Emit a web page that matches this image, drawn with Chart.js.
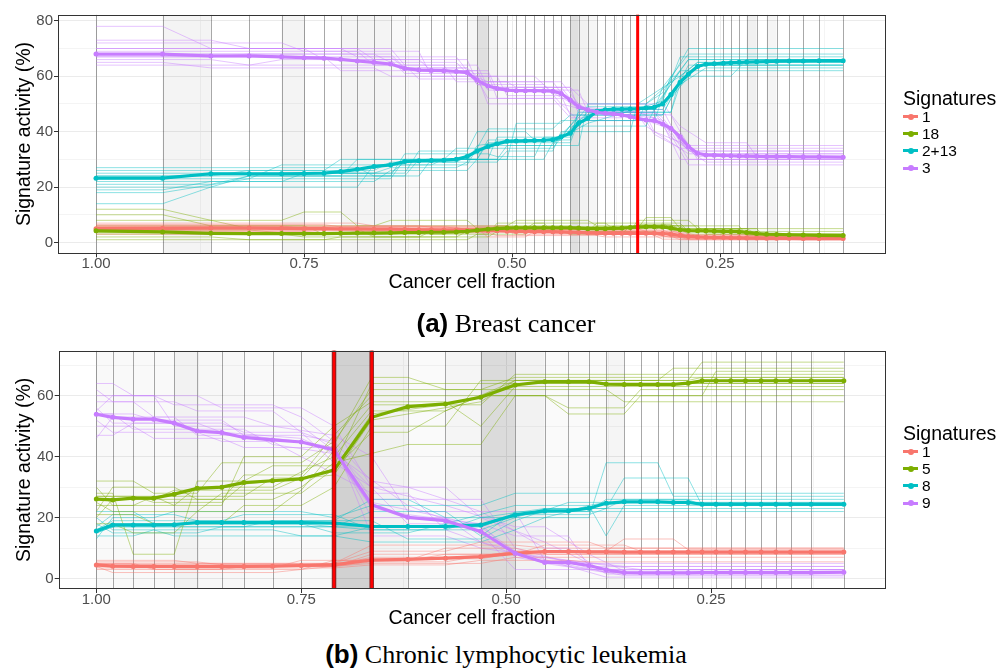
<!DOCTYPE html>
<html>
<head>
<meta charset="utf-8">
<script src="https://cdn.jsdelivr.net/npm/chart.js@4.4.1/dist/chart.umd.min.js"></script>
<style>
  body { margin: 0; background: #fff; width: 999px; height: 672px; position: relative; overflow: hidden;
         font-family: "Liberation Sans", Arial, sans-serif; }
  canvas { position: absolute; left: 0; }
  #cA { top: 0; }
  #cB { top: 336px; }
  .cap { position: absolute; left: 0; width: 1012px; text-align: center; line-height: 30px;
         font-family: "Liberation Serif", "Times New Roman", serif; font-size: 26px; color: #000; }
  .cap b { font-family: "Liberation Sans", Arial, sans-serif; }
  .leg { position: absolute; left: 903px; color: #000; }
  .leg .t { font-size: 19.5px; line-height: 20px; }
  .item { height: 17.2px; display: flex; align-items: center; font-size: 15.5px; }
  .sw { position: relative; width: 15px; height: 3px; margin-right: 4px; }
  .sw i { position: absolute; left: 4.5px; top: -1.5px; width: 6px; height: 6px; border-radius: 50%; }
</style>
</head>
<body>
<canvas id="cA" width="999" height="300"></canvas>
<canvas id="cB" width="999" height="300"></canvas>
<div class="cap" style="top:308px"><b>(a)</b> Breast cancer</div>
<div class="cap" style="top:639px"><b>(b)</b> Chronic lymphocytic leukemia</div>
<div class="leg" id="legA" style="top:88px"></div>
<div class="leg" id="legB" style="top:423px"></div>

<script>
// ---- axes ----
const xTicks = [1.00, 0.75, 0.50, 0.25];
const xGrid = [1.00, 0.875, 0.75, 0.625, 0.50, 0.375, 0.25, 0.125];
const yTicksA = [0, 20, 40, 60, 80];
const yGridA = [0, 10, 20, 30, 40, 50, 60, 70, 80];
const yTicksB = [0, 20, 40, 60];
const yGridB = [0, 10, 20, 30, 40, 50, 60, 70];

// ---- (a) breast cancer ----
const namesA = ['1', '18', '2+13', '3'];
const timesA = [1.000, 0.920, 0.862, 0.816, 0.777, 0.750, 0.726, 0.706, 0.686, 0.666,
  0.646, 0.629, 0.612, 0.597, 0.582, 0.567, 0.554, 0.542, 0.529, 0.518,
  0.506, 0.495, 0.484, 0.473, 0.462, 0.451, 0.441, 0.430, 0.420, 0.409,
  0.398, 0.388, 0.378, 0.368, 0.358, 0.349, 0.339, 0.329, 0.319, 0.309,
  0.298, 0.288, 0.277, 0.267, 0.257, 0.246, 0.237, 0.227, 0.218, 0.206,
  0.194, 0.182, 0.167, 0.150, 0.131, 0.102];
const sig1A = [5.0,5.1,5.2,5.2,5.1,5.0,5.0,4.9,4.9,4.8, 4.8,4.7,4.6,4.6,4.5,4.5,4.4,4.3,4.2,4.2,
  4.1,4.0,4.0,3.9,3.9,3.9,3.8,3.7,3.6,3.5, 3.4,3.3,3.3,3.3,3.3,3.3,3.3,3.3,3.2,3.0,
  2.6,2.2,2.0,1.9,1.8,1.8,1.7,1.7,1.6,1.6, 1.5,1.5,1.5,1.4,1.4,1.4];
const sig18A = [4.2,3.8,3.3,3.2,3.2,3.2,3.2,3.3,3.4,3.4, 3.5,3.6,3.6,3.7,3.7,3.8,4.0,4.4,4.8,5.0,
  5.2,5.3,5.3,5.3,5.3,5.3,5.3,5.3,5.2,5.0, 5.0,5.0,5.1,5.2,5.4,5.6,5.7,5.7,5.6,5.2,
  4.6,4.3,4.2,4.2,4.1,4.0,4.0,3.9,3.6,3.2, 3.0,2.9,2.8,2.7,2.6,2.5];
const sig213A = [23.2,23.2,24.8,24.8,24.8,24.9,25.0,25.6,26.4,27.4, 28.0,29.2,29.5,29.6,29.7,30.0,31.0,33.0,34.6,35.6,
  36.5,36.6,36.7,36.8,36.9,37.1,38.2,39.4,43.0,44.8, 47.4,47.9,48.1,48.1,48.2,48.3,48.5,48.8,50.0,53.4,
  57.8,60.8,63.5,64.3,64.5,64.7,64.9,65.0,65.1,65.2, 65.3,65.4,65.5,65.5,65.6,65.6];
const sig3A = [68.0,68.0,67.3,67.3,67.0,66.7,66.5,66.1,65.5,65.0, 64.4,62.8,62.2,62.1,62.0,61.7,61.3,58.6,56.5,55.6,
  55.0,54.8,54.8,54.8,54.7,54.6,53.8,51.4,49.0,47.8, 47.0,46.6,46.4,46.0,45.4,44.8,44.2,44.0,42.8,41.2,
  38.2,34.6,32.2,31.6,31.5,31.4,31.3,31.2,31.2,31.1, 31.0,31.0,31.0,30.9,30.9,30.8];
// gray shading between consecutive time points
const shadeA = [0,.045,0,0,.045,0,0,.045,.045,.045, .025,.025,0,0,0,0,.04,.12,.045,.025,
  0,0,0,0,0,0,0,.12,.05,.035, 0,0,0,0,0,0,0,0,0,.045, .09,.045,0,0,0,0,0,0,.06,0, .04,0,0,0,0];
const redA = [0.349];

// bootstrap runs: [time index, value]
const boot1A = [
  [[0,7],[8,7],[9,6],[20,6],[21,5],[35,5],[36,4],[40,4],[42,2.5],[55,2.5]],
  [[0,6],[12,6],[13,5.5],[25,5.5],[26,4.5],[38,4.5],[40,2],[55,2]],
  [[0,5.5],[15,5.5],[16,4.5],[28,4.5],[29,3],[39,3],[41,1.5],[55,1.5]],
  [[0,4.5],[10,4.5],[11,4],[22,4],[23,3.5],[38,3.5],[40,1],[55,1]],
  [[0,4],[5,4],[6,3.5],[18,3.5],[19,2.5],[30,2.5],[31,2],[40,2],[41,1],[55,1]],
  [[0,3],[7,3],[8,4],[20,4],[21,3],[37,3],[39,1.8],[55,1.8]],
  [[0,6],[4,6],[5,5],[17,5],[18,2],[22,2],[23,4],[36,4],[38,2.2],[55,2.2]],
  [[0,5],[20,5],[21,4],[36,4],[38,1.2],[55,1.2]],
  [[0,5.8],[14,5.8],[15,5],[30,5],[31,4.2],[39,4.2],[41,2.8],[55,2.8]],
  [[0,4.2],[9,4.2],[10,4.6],[24,4.6],[25,3.2],[38,3.2],[40,1.6],[55,1.6]],
  [[0,6.5],[6,6.5],[7,5.6],[19,5.6],[20,4.8],[33,4.8],[34,3.6],[40,3.6],[41,2],[55,2]]
];
const boot18A = [
  [[0,12],[1,12],[2,8],[4,8],[5,11],[7,11],[8,6],[20,6],[21,8],[29,8],[30,6],[40,6],[41,4],[55,4]],
  [[0,10],[1,10],[2,6],[9,6],[10,8],[16,8],[17,5],[35,5],[36,9],[39,9],[40,5],[48,5],[49,3],[55,3]],
  [[0,8],[2,8],[3,5],[12,5],[13,3],[18,3],[19,7],[24,7],[25,4],[34,4],[35,8],[41,8],[42,5],[55,5]],
  [[0,6],[5,6],[6,3],[14,3],[15,5],[22,5],[23,7],[31,7],[32,5],[40,5],[41,3],[55,3]],
  [[0,3],[4,3],[5,2],[12,2],[13,4],[18,4],[19,6],[27,6],[28,4],[37,4],[38,7],[40,7],[41,4],[49,4],[50,2],[55,2]],
  [[0,2],[2,2],[3,1],[16,1],[17,3],[22,3],[23,5],[36,5],[37,6],[47,6],[48,2.5],[55,2.5]],
  [[0,5],[8,5],[9,2],[15,2],[16,4],[26,4],[27,3],[33,3],[34,6],[42,6],[43,3],[55,3]],
  [[0,1],[6,1],[7,2],[18,2],[19,4],[29,4],[30,7],[38,7],[39,5],[49,5],[50,1.5],[55,1.5]],
  [[0,4.5],[3,4.5],[4,3.5],[16,3.5],[17,5.5],[34,5.5],[35,6.5],[39,6.5],[40,4.5],[47,4.5],[48,3],[55,3]],
  [[0,3.5],[10,3.5],[11,4.2],[18,4.2],[19,5.8],[38,5.8],[39,4.4],[48,4.4],[49,2.2],[55,2.2]]
];
const boot213A = [
  [[0,14],[1,14],[2,20],[8,20],[9,28],[16,28],[17,34],[25,34],[27,42],[36,42],[37,48],[40,62],[55,62]],
  [[0,18],[1,18],[3,23],[10,23],[11,30],[18,30],[19,38],[26,38],[28,46],[38,46],[39,52],[42,64],[55,64]],
  [[0,20],[2,20],[3,24],[7,24],[8,30],[17,30],[18,36],[27,36],[28,44],[35,44],[36,50],[39,58],[41,66],[55,66]],
  [[0,22],[4,22],[5,25],[11,25],[12,33],[16,33],[17,40],[22,40],[23,37],[27,37],[28,48],[37,48],[38,56],[41,68],[55,68]],
  [[0,25],[9,25],[10,27],[15,27],[16,29],[19,29],[20,33],[25,33],[26,40],[34,40],[35,50],[40,60],[42,65],[55,65]],
  [[0,26],[6,26],[7,30],[14,30],[15,34],[17,34],[18,41],[25,41],[26,44],[37,44],[39,60],[46,60],[48,66],[55,66]],
  [[0,27],[8,27],[9,24],[12,24],[13,30],[19,30],[20,35],[28,35],[29,50],[36,50],[38,54],[41,70],[55,70]],
  [[0,24],[10,24],[11,32],[18,32],[19,31],[23,31],[24,38],[27,38],[28,47],[39,47],[40,57],[43,63],[55,63]],
  [[0,23],[3,23],[4,28],[13,28],[14,30],[20,30],[21,43],[26,43],[27,46],[38,46],[41,64],[55,64]],
  [[0,19],[1,19],[2,22],[9,22],[10,26],[16,26],[17,30],[24,30],[25,36],[29,43],[38,51],[40,67],[55,67]],
  [[0,23],[1,23],[2,25],[10,25],[11,29],[16,29],[17,35],[19,36],[20,37],[26,37],[28,44],[30,48],[38,48],[40,58],[42,64],[55,64]],
  [[0,24],[2,24],[3,26],[9,26],[10,29],[15,29],[16,31],[18,35],[25,35],[26,39],[28,45],[29,49],[37,49],[38,53],[41,66],[55,66]],
  [[0,21],[2,21],[3,24],[11,24],[12,30],[17,30],[18,37],[26,37],[27,41],[29,47],[39,47],[40,60],[42,65],[55,65]]
];
const boot3A = [
  [[0,78],[1,78],[2,70],[8,70],[9,66],[16,66],[17,58],[26,58],[28,50],[36,50],[38,45],[41,33],[55,33]],
  [[0,73],[2,73],[3,70],[10,70],[11,64],[17,64],[18,56],[27,56],[28,48],[39,46],[40,40],[42,30],[55,30]],
  [[0,72],[4,72],[5,69],[12,69],[13,60],[19,60],[20,53],[26,53],[27,46],[35,46],[36,42],[41,32],[55,32]],
  [[0,70],[7,70],[8,67],[15,67],[16,62],[18,62],[19,55],[28,55],[29,47],[37,47],[39,38],[43,29],[55,29]],
  [[0,66],[2,66],[3,64],[11,64],[12,59],[17,59],[18,52],[25,52],[27,45],[33,45],[35,48],[38,48],[40,36],[42,31],[55,31]],
  [[0,65],[1,65],[2,63],[9,63],[10,60],[17,60],[18,50],[26,50],[28,44],[36,44],[37,39],[40,34],[55,34]],
  [[0,69],[8,69],[9,64],[14,64],[15,58],[20,58],[21,56],[27,56],[29,50],[38,50],[40,42],[43,36],[48,36],[49,31],[55,31]],
  [[0,67],[6,67],[7,62],[16,62],[17,57],[24,57],[26,50],[31,46],[36,46],[37,40],[41,35],[55,35]],
  [[0,68],[10,68],[11,63],[16,63],[17,60],[23,60],[25,54],[28,49],[38,43],[40,30],[55,30]],
  [[0,64],[3,64],[4,66],[10,66],[11,61],[18,61],[19,52],[27,52],[28,47],[37,47],[38,44],[41,28],[55,28]],
  [[0,68],[3,68],[4,67],[10,67],[11,63],[16,63],[17,57],[19,56],[26,56],[27,52],[29,48],[34,46],[36,44],[39,41],[41,33],[55,33]],
  [[0,67],[2,67],[3,68],[9,68],[10,65],[15,65],[16,61],[18,58],[25,58],[26,54],[28,49],[35,47],[38,44],[40,38],[42,32],[55,32]],
  [[0,70],[5,70],[6,66],[12,66],[13,62],[17,62],[18,55],[26,55],[27,50],[30,47],[37,45],[39,40],[41,30],[55,30]]
];

// ---- (b) chronic lymphocytic leukemia ----
const namesB = ['1', '5', '8', '9'];
const timesB = [1.000, 0.980, 0.955, 0.930, 0.905, 0.877, 0.847, 0.820, 0.785, 0.750,
  0.710, 0.664, 0.620, 0.574, 0.531, 0.489, 0.453, 0.424, 0.399, 0.378,
  0.356, 0.336, 0.315, 0.296, 0.278, 0.261, 0.244, 0.226, 0.208, 0.189,
  0.171, 0.153, 0.128, 0.088];
const sig1B = [4.5,4.1,4.0,4.0,4.0,4.0,4.0,4.0,4.1,4.3, 4.5,6.1,6.3,6.7,7.2,8.3,8.9,8.9,8.8,8.8,
  8.7,8.7,8.7,8.7,8.7,8.7,8.7,8.7,8.7,8.7, 8.7,8.7,8.7,8.7];
const sig5B = [26.1,25.8,26.4,26.4,27.7,29.6,30.0,31.5,32.1,32.7, 35.6,52.9,56.4,57.3,59.5,63.5,64.6,64.6,64.6,63.8,
  63.7,63.7,63.7,63.7,64.1,64.9,64.9,64.9,64.9,64.9, 64.9,64.9,64.9,64.9];
const sig8B = [15.6,17.6,17.6,17.6,17.7,18.4,18.4,18.4,18.4,18.4, 18.2,17.1,17.1,17.1,17.6,20.9,22.2,22.2,23.1,24.7,
  25.2,25.2,25.2,25.0,25.0,24.4,24.4,24.4,24.4,24.4, 24.4,24.4,24.4,24.4];
const sig9B = [53.9,52.9,52.3,52.3,51.0,48.4,47.9,46.3,45.5,44.8, 42.2,24.2,20.1,19.0,15.5,8.3,5.3,5.3,4.3,2.9,
  2.0,1.9,1.9,1.9,1.9,2.0,2.0,2.0,2.0,2.0, 2.0,2.0,2.0,2.1];
const shadeB = [.025,.025,.025,.025,.05,.03,.03,.025,.025,.025, .18,.05,.02,.04,.14,.05,.02,.02,.02,.04,
  0,0,0,0,0,0,0,0,0,0, 0,0,0];
const redB = [0.710, 0.664];

const boot1B = [
  [[0,6],[4,6],[5,5],[10,5],[11,9],[13,9],[14,12],[18,12],[19,10],[33,10]],
  [[0,5],[2,5],[3,3],[9,3],[10,4],[11,8],[15,8],[16,11],[20,11],[21,9],[33,9]],
  [[0,4],[1,2],[8,2],[9,3],[10,6],[12,6],[13,10],[15,10],[16,8],[33,8]],
  [[0,3],[6,3],[7,4],[10,4],[11,5],[14,5],[15,7],[33,7]],
  [[0,5.5],[5,5.5],[6,4.5],[10,4.5],[11,7],[14,7],[15,9],[19,9],[20,13],[23,13],[24,9.5],[33,9.5]],
  [[0,4.5],[3,4.5],[4,3.5],[10,3.5],[11,4.5],[13,4.5],[14,6],[17,6],[18,5.5],[33,5.5]],
  [[0,3.5],[8,3.5],[9,6],[12,6],[13,8],[33,8]],
  [[0,5],[10,5],[11,11],[15,11],[16,10],[33,10]],
  [[0,4.5],[9,4.5],[10,5],[11,6.5],[14,6.5],[15,8.5],[33,8.5]],
  [[0,4],[10,4],[11,5.5],[13,5.5],[14,7.5],[15,9],[33,9]]
];
const boot5B = [
  [[0,32],[2,32],[3,28],[5,28],[6,38],[9,38],[10,45],[11,62],[14,62],[15,66],[33,66]],
  [[0,30],[1,24],[4,24],[5,30],[8,30],[9,35],[10,40],[11,55],[13,55],[14,60],[16,60],[17,54],[20,54],[21,60],[25,60],[26,68],[33,68]],
  [[0,28],[1,28],[2,8],[4,8],[5,32],[7,32],[8,37],[10,37],[11,64],[33,64]],
  [[0,27],[3,27],[4,24],[6,24],[7,40],[9,40],[10,50],[11,58],[13,58],[14,50],[15,63],[33,63]],
  [[0,25],[1,22],[5,22],[6,28],[9,28],[10,36],[11,48],[12,48],[13,55],[15,65],[24,65],[25,71],[33,71]],
  [[0,24],[2,24],[3,27],[7,27],[8,33],[9,33],[10,44],[11,66],[12,66],[13,62],[19,62],[20,58],[33,58]],
  [[0,22],[1,30],[4,30],[5,26],[8,26],[9,30],[10,38],[12,44],[14,44],[15,60],[33,60]],
  [[0,21],[2,21],[3,18],[6,18],[7,24],[9,24],[10,30],[11,50],[13,50],[14,65],[22,65],[23,69],[33,69]],
  [[0,20],[1,26],[6,26],[7,34],[9,34],[10,47],[11,60],[16,60],[17,56],[20,56],[21,62],[33,62]],
  [[0,18],[1,18],[2,15],[4,15],[5,22],[8,22],[9,29],[10,42],[11,57],[14,57],[15,67],[33,67]],
  [[0,26],[3,26],[4,29],[8,29],[9,33],[10,36],[11,54],[13,57],[14,60],[15,64],[33,64]],
  [[0,27],[2,27],[3,25],[6,25],[7,31],[10,34],[11,52],[14,58],[15,65],[24,65],[25,66],[33,66]]
];
const boot8B = [
  [[0,13],[1,20],[3,20],[4,22],[9,22],[10,20],[11,24],[14,24],[15,28],[33,28]],
  [[0,14],[2,14],[3,16],[8,16],[9,14],[10,14],[11,12],[14,12],[15,16],[16,20],[18,20],[19,38],[22,38],[23,27],[33,27]],
  [[0,16],[1,19],[6,19],[7,21],[10,21],[11,16],[13,16],[14,20],[16,23],[19,23],[20,33],[24,33],[25,24],[33,24]],
  [[0,18],[1,15],[5,15],[6,17],[10,17],[11,22],[13,22],[14,14],[15,22],[18,22],[19,26],[33,26]],
  [[0,22],[2,22],[3,18],[9,18],[10,15],[12,15],[13,18],[15,24],[18,24],[19,14],[20,24],[33,24]],
  [[0,15],[1,17],[7,17],[8,19],[11,19],[12,13],[14,13],[15,19],[17,25],[33,25]],
  [[0,17],[1,21],[4,21],[5,19],[10,19],[11,26],[12,26],[13,20],[16,20],[17,22],[33,22]],
  [[0,20],[1,16],[3,16],[4,14],[10,14],[11,17],[14,17],[15,21],[18,21],[19,23],[33,23]],
  [[0,16],[1,18],[9,18],[10,17],[11,17],[14,17],[15,21],[17,22],[18,24],[19,25],[33,25]],
  [[0,15],[1,17],[10,17],[11,16],[14,16],[15,20],[16,23],[19,23],[20,26],[24,26],[25,24],[33,24]]
];
const boot9B = [
  [[0,64],[1,64],[2,60],[5,60],[6,56],[9,56],[10,50],[11,30],[13,30],[14,20],[16,12],[18,5],[33,5]],
  [[0,62],[1,58],[4,58],[5,55],[8,55],[9,48],[10,44],[11,26],[14,26],[15,10],[19,2],[33,2]],
  [[0,58],[2,58],[3,53],[7,53],[8,50],[10,47],[11,40],[12,22],[15,22],[16,6],[20,1],[33,1]],
  [[0,55],[1,60],[3,60],[4,50],[9,50],[10,42],[12,18],[14,18],[15,14],[17,14],[18,4],[33,4]],
  [[0,52],[1,48],[5,48],[6,45],[8,45],[9,40],[11,28],[12,28],[13,16],[15,8],[21,3],[33,3]],
  [[0,50],[2,50],[3,46],[6,46],[7,43],[10,43],[11,20],[13,20],[14,12],[15,9],[19,0.5],[33,0.5]],
  [[0,47],[1,47],[2,51],[6,51],[7,48],[9,48],[10,38],[11,30],[13,24],[15,17],[16,17],[18,8],[20,2.5],[33,2.5]],
  [[0,60],[3,60],[4,57],[8,57],[9,53],[10,45],[11,32],[12,30],[13,26],[14,22],[16,10],[17,10],[19,1.5],[33,1.5]],
  [[0,54],[1,54],[2,49],[7,49],[8,44],[10,41],[12,24],[14,15],[15,3],[33,3]],
  [[0,46],[1,53],[4,53],[5,47],[9,47],[10,45],[11,14],[13,14],[14,10],[17,6],[20,4],[33,4]],
  [[0,54],[2,54],[3,52],[6,52],[7,47],[9,45],[10,43],[11,25],[13,20],[14,17],[15,9],[16,5],[19,2],[33,2]],
  [[0,56],[1,51],[5,51],[6,48],[9,46],[10,41],[11,23],[12,21],[14,18],[15,7],[18,3],[33,3]]
];

const palette = ['#F8766D', '#7CAE00', '#00BFC4', '#C77CFF'];
const FONT = '"Liberation Sans", Arial, sans-serif';

function rgba(hex, a) {
  const n = parseInt(hex.slice(1), 16);
  return `rgba(${n >> 16},${(n >> 8) & 255},${n & 255},${a})`;
}

function bootSets(times, runs, color) {
  return runs.map(r => ({
    data: r.map(p => ({x: times[p[0]], y: p[1]})),
    borderColor: rgba(color, 0.45), borderWidth: 1, pointRadius: 0, tension: 0, order: 10
  }));
}

function mainSet(times, vals, color, order) {
  return {
    data: vals.map((v, i) => ({x: times[i], y: v})),
    borderColor: color, backgroundColor: color, pointBackgroundColor: color,
    borderWidth: 3.2, pointRadius: 2.5, pointBorderWidth: 0, tension: 0, order: order
  };
}

// shading, vertical time-point lines, red change points, panel border
const panelPlugin = {
  id: 'panel',
  beforeDatasetsDraw(chart, args, o) {
    const {ctx, chartArea: a, scales: {x}} = chart;
    ctx.save();
    ctx.beginPath(); ctx.rect(a.left, a.top, a.width, a.height); ctx.clip();
    o.shade.forEach((al, i) => {
      if (!al) return;
      const x1 = x.getPixelForValue(o.times[i]), x2 = x.getPixelForValue(o.times[i + 1]);
      ctx.fillStyle = `rgba(0,0,0,${al})`;
      ctx.fillRect(Math.min(x1, x2), a.top, Math.abs(x2 - x1), a.height);
    });
    ctx.strokeStyle = 'rgba(0,0,0,0.34)';
    ctx.lineWidth = 1;
    o.times.forEach(t => {
      const px = Math.round(x.getPixelForValue(t)) + 0.5;
      ctx.beginPath(); ctx.moveTo(px, a.top); ctx.lineTo(px, a.bottom); ctx.stroke();
    });
    ctx.restore();
  },
  afterDatasetsDraw(chart, args, o) {
    const {ctx, chartArea: a, scales: {x}} = chart;
    ctx.save();
    o.red.forEach(t => {
      const px = x.getPixelForValue(t);
      if (o.edge) {
        ctx.strokeStyle = 'rgba(120,0,0,0.85)'; ctx.lineWidth = 4.5;
        ctx.beginPath(); ctx.moveTo(px, a.top); ctx.lineTo(px, a.bottom); ctx.stroke();
      }
      ctx.strokeStyle = '#ff0000'; ctx.lineWidth = o.edge ? 2.5 : 3;
      ctx.beginPath(); ctx.moveTo(px, a.top); ctx.lineTo(px, a.bottom); ctx.stroke();
    });
    ctx.strokeStyle = '#333333'; ctx.lineWidth = 1;
    ctx.strokeRect(Math.round(a.left) + 0.5, Math.round(a.top) + 0.5,
      Math.round(a.width) - 1, Math.round(a.height) - 1);
    ctx.restore();
  }
};

function makeChart(id, p) {
  const datasets = [];
  p.boots.forEach((b, k) => datasets.push(...bootSets(p.times, b, palette[k])));
  p.mains.forEach((m, k) => datasets.push(mainSet(p.times, m, palette[k], 4 - k)));
  return new Chart(document.getElementById(id), {
    type: 'line',
    data: {datasets},
    plugins: [panelPlugin],
    options: {
      responsive: false, animation: false, events: [],
      layout: {padding: {left: 0, top: p.top, right: p.right, bottom: 0}},
      plugins: {legend: {display: false}, tooltip: {enabled: false},
        panel: {times: p.times, shade: p.shade, red: p.red, edge: p.edge}},
      scales: {
        x: {
          type: 'linear', reverse: true, min: p.xMin, max: p.xMax,
          afterBuildTicks: s => { s.ticks = xGrid.map(v => ({value: v})); },
          afterFit: s => { s.height = p.xH; },
          ticks: {callback: v => xTicks.includes(v) ? v.toFixed(2) : '', autoSkip: false, maxRotation: 0,
            font: {size: 15, family: FONT}, color: '#4d4d4d', padding: -2},
          grid: {color: c => c.tick && xTicks.includes(c.tick.value) ? '#ebebeb' : '#f4f4f4',
            tickColor: c => c.tick && xTicks.includes(c.tick.value) ? '#333333' : 'rgba(0,0,0,0)', tickLength: 4},
          border: {display: false},
          title: {display: true, text: 'Cancer cell fraction', color: '#000',
            font: {size: 19.5, family: FONT}, padding: {top: 0, bottom: 6}}
        },
        y: {
          min: p.yMin, max: p.yMax,
          afterBuildTicks: s => { s.ticks = p.yGrid.map(v => ({value: v})); },
          afterFit: s => { s.width = p.yW; },
          ticks: {callback: v => p.yTicks.includes(v) ? String(v) : '',
            font: {size: 15, family: FONT}, color: '#4d4d4d', padding: 1},
          grid: {color: c => c.tick && p.yTicks.includes(c.tick.value) ? '#ebebeb' : '#f4f4f4',
            tickColor: c => c.tick && p.yTicks.includes(c.tick.value) ? '#333333' : 'rgba(0,0,0,0)', tickLength: 4},
          border: {display: false},
          title: {display: true, text: 'Signature activity (%)', color: '#000',
            font: {size: 19.5, family: FONT}, padding: {top: 12.5, bottom: 0}}
        }
      }
    }
  });
}

makeChart('cA', {
  times: timesA, shade: shadeA, red: redA, edge: false,
  boots: [boot1A, boot18A, boot213A, boot3A], mains: [sig1A, sig18A, sig213A, sig3A],
  xMin: 0.0505, xMax: 1.0457, yMin: -3.9, yMax: 82.2, yTicks: yTicksA, yGrid: yGridA,
  top: 14.7, right: 113, yW: 58, xH: 46.7
});
makeChart('cB', {
  times: timesB, shade: shadeB, red: redB, edge: true,
  boots: [boot1B, boot5B, boot8B, boot9B], mains: [sig1B, sig5B, sig8B, sig9B],
  xMin: 0.0374, xMax: 1.0459, yMin: -3.4, yMax: 74.75, yTicks: yTicksB, yGrid: yGridB,
  top: 14.7, right: 113.7, yW: 58.7, xH: 47
});

function legend(id, names) {
  const el = document.getElementById(id);
  el.innerHTML = '<div class="t">Signatures</div>';
  names.forEach((n, k) => {
    const it = document.createElement('div');
    it.className = 'item';
    it.innerHTML = `<span class="sw" style="background:${palette[k]}"><i style="background:${palette[k]}"></i></span>${n}`;
    el.appendChild(it);
  });
}
legend('legA', namesA);
legend('legB', namesB);
</script>
</body>
</html>
